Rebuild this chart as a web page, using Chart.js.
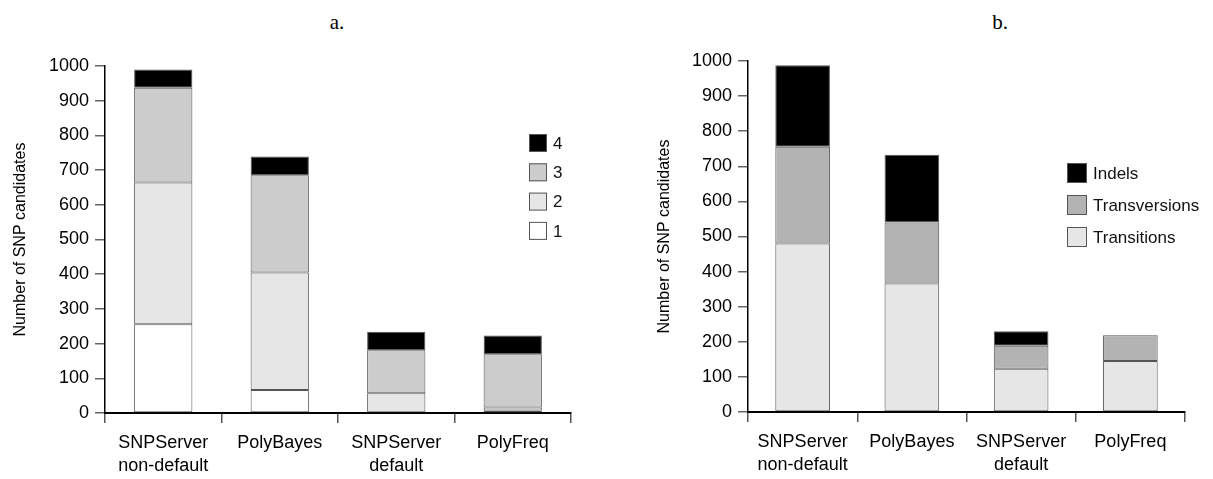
<!DOCTYPE html>
<html>
<head>
<meta charset="utf-8">
<script src="https://cdn.jsdelivr.net/npm/chart.js@4"></script>
<style>
  body { margin: 0; background: #fff; }
  #wrap { position: relative; width: 1213px; height: 479px; overflow: hidden; }
  .panel { position: absolute; top: 0; }
  .tag { position: absolute; top: 10px; font: 21px "Liberation Serif", "Times New Roman", serif; color: #000; transform: translateX(-50%); }
</style>
</head>
<body>
<div id="wrap">
  <div class="tag" style="left:337px">a.</div>
  <div class="tag" style="left:1000px">b.</div>
  <div class="panel" style="left:0;width:606px;height:479px"><canvas id="chartA"></canvas></div>
  <div class="panel" style="left:640px;width:573px;height:479px"><canvas id="chartB"></canvas></div>
</div>
<script>
// categories shared by both panels
const tools = [['SNPServer', 'non-default'], 'PolyBayes', ['SNPServer', 'default'], 'PolyFreq'];

// panel a: candidates split into classes 1-4
const a1 = [256, 66, 0, 7];
const a2 = [408, 339, 57, 9];
const a3 = [273, 280, 124, 153];
const a4 = [53, 54, 53, 54];

// panel b: candidates split by type
const transitions = [480, 366, 123, 145];
const transversions = [276, 174, 66, 74];
const indels = [232, 193, 41, 0];

const yTicks = [0, 100, 200, 300, 400, 500, 600, 700, 800, 900, 1000];

const sans = "'Liberation Sans', Arial, sans-serif";

// small legend drawn inside the plot, top item = last dataset
const boxLegend = {
    id: 'boxLegend',
    afterDraw(chart, args, opts) {
        const ctx = chart.ctx;
        const sets = chart.data.datasets.slice().reverse();
        ctx.save();
        ctx.font = '17px ' + sans;
        ctx.textBaseline = 'middle';
        sets.forEach((ds, i) => {
            const cy = opts.y + i * opts.gap;
            ctx.fillStyle = ds.backgroundColor;
            ctx.fillRect(opts.x, cy - opts.box / 2, opts.box, opts.box);
            ctx.strokeStyle = '#555';
            ctx.lineWidth = 1;
            ctx.strokeRect(opts.x + 0.5, cy - opts.box / 2 + 0.5, opts.box - 1, opts.box - 1);
            ctx.fillStyle = '#111';
            ctx.fillText(ds.label, opts.x + opts.box + 6, cy + 1);
        });
        ctx.restore();
    }
};

function makeChart(id, datasets, area, legendOpts) {
    const ctx = document.querySelector(id);
    return new Chart(ctx, {
        type: 'bar',
        data: { labels: tools, datasets: datasets },
        plugins: [boxLegend],
        options: {
            responsive: true,
            maintainAspectRatio: false,
            animation: false,
            layout: { padding: { top: area.top, right: area.right, bottom: 0, left: 0 } },
            datasets: {
                bar: { barPercentage: 0.5, categoryPercentage: 1, borderWidth: 1, borderColor: '#555', borderSkipped: false }
            },
            plugins: {
                legend: { display: false },
                tooltip: { enabled: false },
                boxLegend: legendOpts
            },
            scales: {
                x: {
                    stacked: true,
                    border: { display: true, color: '#000', width: 2 },
                    grid: {
                        drawOnChartArea: false,
                        tickLength: 10,
                        lineWidth: 1.5,
                        color: (c) => c.index === tools.length ? 'rgba(0,0,0,0)' : '#555'
                    },
                    ticks: { color: '#000', padding: 8, maxRotation: 0, autoSkip: false, font: { family: sans, size: 18, lineHeight: 1.3 } },
                    afterFit: (s) => { s.height = area.xh; s.paddingLeft = 0; s.paddingRight = 0; }
                },
                y: {
                    stacked: true,
                    min: 0,
                    max: 1000,
                    afterBuildTicks: (s) => { s.ticks = yTicks.map(v => ({ value: v })); },
                    border: { display: true, color: '#000', width: 1.5 },
                    grid: { drawOnChartArea: false, tickLength: 10, lineWidth: 1.5, color: '#666' },
                    ticks: { color: '#000', padding: 6, font: { family: sans, size: 18 }, callback: (v) => String(v) },
                    title: {
                        display: true,
                        text: 'Number of SNP candidates',
                        color: '#000',
                        padding: { top: area.titlePad, bottom: 0 },
                        font: { family: sans, size: 16 }
                    },
                    afterFit: (s) => { s.width = area.yw; s.paddingTop = 0; s.paddingBottom = 0; }
                }
            }
        }
    });
}

makeChart('#chartA', [
    { label: '1', data: a1, backgroundColor: '#ffffff' },
    { label: '2', data: a2, backgroundColor: '#e6e6e6' },
    { label: '3', data: a3, backgroundColor: '#cccccc' },
    { label: '4', data: a4, backgroundColor: '#000000' }
], { top: 66, right: 35, xh: 66, yw: 105, titlePad: 11 }, { x: 529, y: 143, gap: 29.3, box: 18 });

makeChart('#chartB', [
    { label: 'Transitions', data: transitions, backgroundColor: '#e6e6e6' },
    { label: 'Transversions', data: transversions, backgroundColor: '#b3b3b3' },
    { label: 'Indels', data: indels, backgroundColor: '#000000' }
], { top: 61, right: 28, xh: 67, yw: 108, titlePad: 15 }, { x: 427, y: 173, gap: 32, box: 20 });
</script>
</body>
</html>
